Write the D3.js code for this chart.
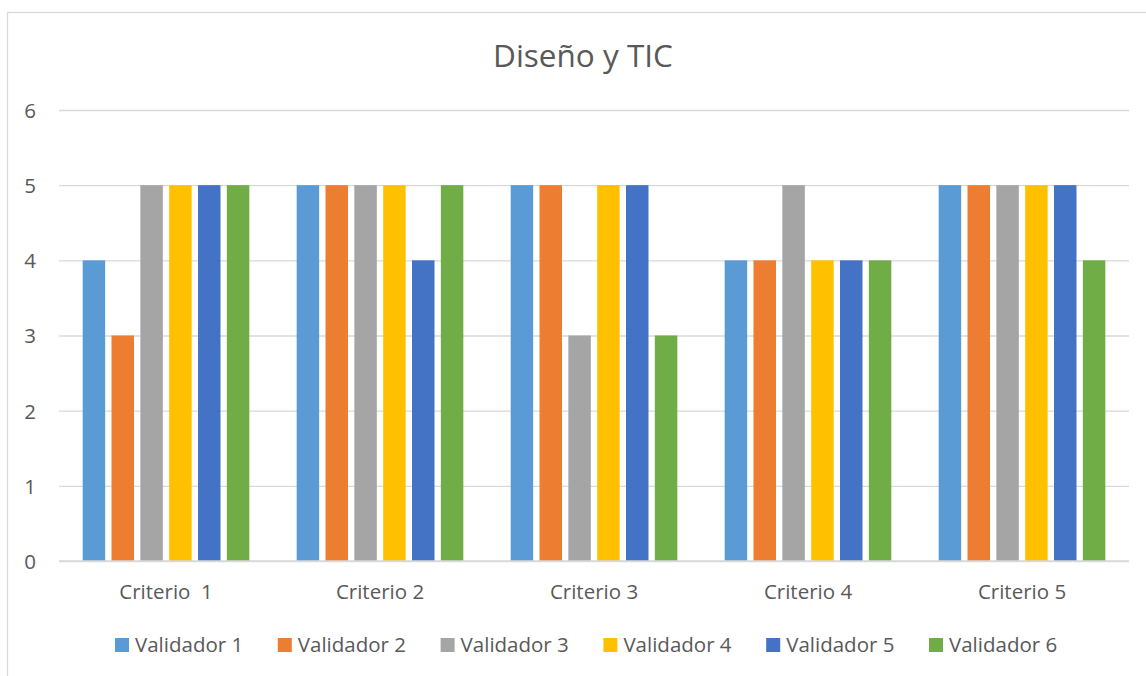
<!DOCTYPE html>
<html>
<head>
<meta charset="utf-8">
<script src="https://cdn.jsdelivr.net/npm/d3@7"></script>
<style>
  html, body { margin: 0; padding: 0; background: #fff; }
  svg { display: block; font-family: 'Open Sans', 'Noto Sans', sans-serif; }
</style>
</head>
<body>
<div id="chart"></div>
<script>
const title = 'Diseño y TIC';
const categories = ['Criterio  1', 'Criterio 2', 'Criterio 3', 'Criterio 4', 'Criterio 5'];
const seriesNames = ['Validador 1', 'Validador 2', 'Validador 3', 'Validador 4', 'Validador 5', 'Validador 6'];
const validador1 = [4, 5, 5, 4, 5];
const validador2 = [3, 5, 5, 4, 5];
const validador3 = [5, 5, 3, 5, 5];
const validador4 = [5, 5, 5, 4, 5];
const validador5 = [5, 4, 5, 4, 5];
const validador6 = [5, 5, 3, 4, 4];
const yTicks = [0, 1, 2, 3, 4, 5, 6];
const colors = ['#5B9BD5', '#ED7D31', '#A5A5A5', '#FFC000', '#4472C4', '#70AD47'];

const seriesValues = [validador1, validador2, validador3, validador4, validador5, validador6];

const width = 1146, height = 676;
const plot = { left: 59, right: 1129, top: 110, bottom: 561 };
const textColor = '#595959';
const gridColor = '#D9D9D9';

const svg = d3.select('#chart').append('svg')
    .attr('width', width)
    .attr('height', height);

// chart border (runs off the right and bottom edges)
svg.append('rect')
    .attr('x', 7.5)
    .attr('y', 12.5)
    .attr('width', 1160)
    .attr('height', 700)
    .style('fill', 'white')
    .style('stroke', gridColor)
    .style('stroke-width', 1.3);

svg.append('text')
    .attr('x', 583)
    .attr('y', 67)
    .attr('text-anchor', 'middle')
    .style('font-size', '31.5px')
    .style('fill', textColor)
    .text(title);

const x0 = d3.scaleBand()
    .domain(categories)
    .range([plot.left, plot.right]);

const x1 = d3.scaleBand()
    .domain(seriesNames)
    .range([20.5, x0.bandwidth() - 20.5])
    .paddingInner(0.22)
    .paddingOuter(0.11);

const y = d3.scaleLinear()
    .domain([0, 6])
    .range([plot.bottom, plot.top]);

// gridlines
const axisY = d3.axisLeft(y)
    .tickValues(yTicks)
    .tickSize(-(plot.right - plot.left))
    .tickPadding(23)
    .tickFormat(d3.format('d'));

svg.append('g')
    .attr('class', 'y axis')
    .attr('transform', 'translate(' + plot.left + ', 0)')
    .call(axisY)
    .call(g => {
        g.select('.domain').remove();
        g.selectAll('line').style('stroke', gridColor).style('stroke-width', 1.4);
        g.selectAll('text')
            .style('font-size', '20.5px')
            .style('fill', textColor)
            .attr('dy', '0.36em')
            .style('font-family', "'Open Sans', 'Noto Sans', sans-serif");
    });

// bars
const groups = svg.append('g').selectAll('g')
    .data(categories)
    .enter()
    .append('g')
        .attr('transform', d => 'translate(' + x0(d) + ', 0)');

groups.selectAll('rect')
    .data((c, ci) => seriesNames.map((s, si) => ({ s: s, si: si, v: seriesValues[si][ci] })))
    .enter()
    .append('rect')
        .attr('x', d => x1(d.s))
        .attr('y', d => y(d.v))
        .attr('width', x1.bandwidth())
        .attr('height', d => y(0) - y(d.v))
        .style('fill', d => colors[d.si]);

// baseline over the bars
svg.append('line')
    .attr('x1', plot.left)
    .attr('x2', plot.right)
    .attr('y1', y(0))
    .attr('y2', y(0))
    .style('stroke', gridColor)
    .style('stroke-width', 1.4);

// category labels
const axisX = d3.axisBottom(x0).tickSize(0).tickPadding(0);
svg.append('g')
    .attr('class', 'x axis')
    .attr('transform', 'translate(0, ' + plot.bottom + ')')
    .call(axisX)
    .call(g => {
        g.select('.domain').remove();
        g.selectAll('text')
            .attr('y', 38)
            .attr('dy', 0)
            .style('font-size', '20.5px')
            .style('fill', textColor)
            .style('white-space', 'pre')
            .style('font-family', "'Open Sans', 'Noto Sans', sans-serif");
    });

// legend
const legendX = d3.scalePoint()
    .domain(seriesNames)
    .range([115, 929]);

const legend = svg.append('g').selectAll('g')
    .data(seriesNames)
    .enter()
    .append('g')
        .attr('transform', d => 'translate(' + legendX(d) + ', 638)');

legend.append('rect')
    .attr('width', 14)
    .attr('height', 14)
    .style('fill', (d, i) => colors[i]);

legend.append('text')
    .attr('x', 20)
    .attr('y', 14)
    .style('font-size', '20.5px')
    .style('fill', textColor)
    .text(d => d);
</script>
</body>
</html>
